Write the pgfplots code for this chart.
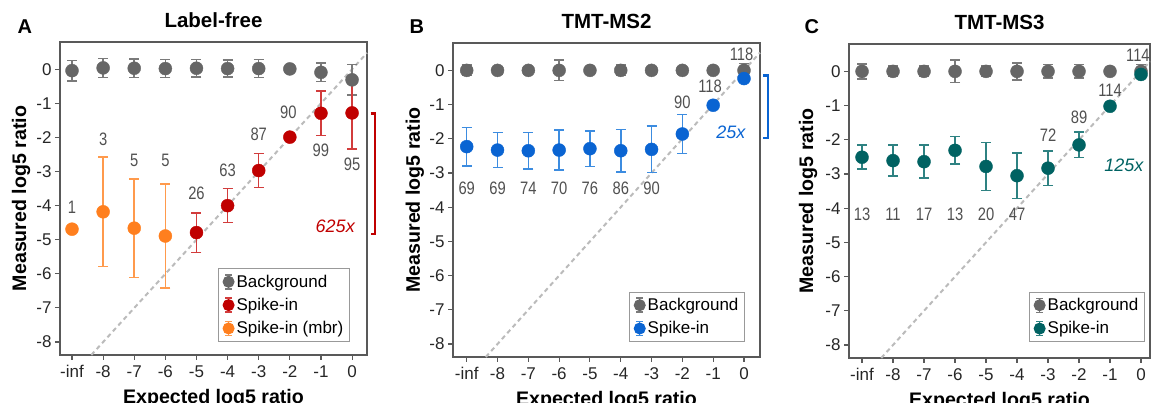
\documentclass[border=0pt]{standalone}
\usepackage{fontspec}
\setmainfont{Liberation Sans}
\newfontfamily\narrowfont[FakeStretch=0.82]{Liberation Sans}
\usepackage{pgfplots}
\usepackage{pgfplotstable}
\pgfplotsset{compat=1.18}

\definecolor{bgc}{HTML}{666666}
\definecolor{bgerr}{HTML}{7A7A7A}
\definecolor{redc}{HTML}{C00000}
\definecolor{rederr}{HTML}{D23C3C}
\definecolor{orc}{HTML}{FF7F1E}
\definecolor{orerr}{HTML}{FF9A4C}
\definecolor{bluec}{HTML}{0A64D2}
\definecolor{blueerr}{HTML}{3C8CE0}
\definecolor{tealc}{HTML}{006262}
\definecolor{tealerr}{HTML}{2E8282}
\definecolor{annc}{HTML}{505050}
\definecolor{diagc}{HTML}{BBBBBB}

% x = -9 stands for -inf
\pgfplotstableread{
x y e
-9 -0.04 0.30
-8 0.04 0.28
-7 0.03 0.27
-6 0.02 0.26
-5 0.03 0.25
-4 0.02 0.25
-3 0.02 0.26
-2 0.01 0.00
-1 -0.09 0.27
0 -0.31 0.45
}\bgA
\pgfplotstableread{
x y e
-5 -4.79 0.58
-4 -4.00 0.50
-3 -2.97 0.50
-2 -1.99 0.00
-1 -1.29 0.65
0 -1.28 1.06
}\spA
\pgfplotstableread{
x y e
-9 -4.69 0.00
-8 -4.18 1.60
-7 -4.66 1.44
-6 -4.89 1.52
}\mbrA
\pgfplotstableread{
x y e
-9 0 0.15
-8 0 0.12
-7 0 0.12
-6 0 0.30
-5 0 0.12
-4 0 0.15
-3 0 0.12
-2 0 0.12
-1 0 0.00
0 0 0.20
}\bgB
\pgfplotstableread{
x y e
-9 -2.23 0.56
-8 -2.33 0.51
-7 -2.35 0.53
-6 -2.33 0.58
-5 -2.29 0.52
-4 -2.35 0.62
-3 -2.31 0.68
-2 -1.86 0.57
-1 -1.02 0.00
0 -0.24 0.00
}\spB
\pgfplotstableread{
x y e
-9 0 0.22
-8 0 0.15
-7 0 0.15
-6 0 0.33
-5 0 0.15
-4 0 0.25
-3 0 0.20
-2 0 0.20
-1 0 0.00
0 0 0.20
}\bgC
\pgfplotstableread{
x y e
-9 -2.51 0.35
-8 -2.61 0.45
-7 -2.64 0.48
-6 -2.31 0.40
-5 -2.78 0.70
-4 -3.05 0.67
-3 -2.83 0.50
-2 -2.15 0.37
-1 -1.02 0.00
0 -0.09 0.00
}\spC

\newcommand\ebleg[2]{%
  \draw[#2, line width=1.4pt] (5pt,-7pt) -- (5pt,7pt);
  \draw[#2, line width=1.4pt] (1.5pt,-7pt) -- (8.5pt,-7pt);
  \draw[#2, line width=1.4pt] (1.5pt,7pt) -- (8.5pt,7pt);
  \fill[#1] (5pt,0pt) circle (5.5pt);}

\tikzset{
  diag/.style={diagc, dashed, line width=2pt, dash pattern=on 4.5pt off 3.5pt},
  ann/.style={font=\narrowfont\fontsize{18}{20}\selectfont, text=annc},
}
\newcommand\labfont{\bfseries\fontsize{19.6}{22}\selectfont}
\pgfplotsset{
  panel/.style={
    scale only axis, anchor=south west, clip=false,
    ymin=-8.38, ymax=0.8,
    xtick={-9,...,0}, xticklabels={-inf,-8,-7,-6,-5,-4,-3,-2,-1,0},
    ytick={-8,...,0}, yticklabels={-8,-7,-6,-5,-4,-3,-2,-1,0},
    xtick pos=bottom, ytick pos=left, tick align=outside,
    major tick length=5pt,
    axis line style={draw=black!65, line width=1.1pt},
    every tick/.style={draw=black!65, line width=1.1pt},
    tick label style={font=\fontsize{17}{19}\selectfont, text=black!85},
    xticklabel style={yshift=-2pt},
    xlabel={Expected log5 ratio}, ylabel={Measured log5 ratio},
    every axis x label/.style={at={(axis description cs:0.5,-0.155)}, anchor=base, font=\labfont},
    title style={at={(axis description cs:0.5,1)}, anchor=base, yshift=8.7pt,
      font=\bfseries\fontsize{20.5}{22}\selectfont},
    legend cell align=left,
    legend style={draw=black!40, line width=1pt, anchor=south east,
      font=\fontsize{17}{19}\selectfont, inner xsep=4pt, inner ysep=4pt, row sep=5.5pt},
  },
  ylab/.style={every axis y label/.style={at={(axis description cs:#1,0.5)},
      rotate=90, anchor=center, font=\labfont}},
  pts/.style n args={3}{only marks, mark=*, mark size=6.5pt,
    mark options={draw=#1, fill=#1},
    legend image code/.code={\ebleg{#1}{#2}},
    /pgfplots/error bars/y dir=both,
    /pgfplots/error bars/y explicit,
    /pgfplots/error bars/error mark=-,
    /pgfplots/error bars/error bar style={#2, line width=1.5pt},
    /pgfplots/error bars/error mark options={#2, rotate=90, line width=1.5pt, mark size=5pt}},
}

\begin{document}
\begin{tikzpicture}
\useasboundingbox (0,0) rectangle (1155pt,403pt);

\node[anchor=base west, font=\bfseries\fontsize{20}{22}\selectfont] at (14pt,369pt) {A};
\node[anchor=base west, font=\bfseries\fontsize{20}{22}\selectfont] at (406pt,369pt) {B};
\node[anchor=base west, font=\bfseries\fontsize{20}{22}\selectfont] at (801pt,369pt) {C};

% ---------- A ----------
\begin{axis}[panel, at={(60pt,48pt)}, width=307pt, height=313pt,
  xmin=-9.386, xmax=0.48, title={Label-free}, ylab=-0.127,
  legend style={at={(0.944,0.042)}}]
\addplot[diag, forget plot] coordinates {(-8.38,-8.38) (0.48,0.48)};
\addplot[pts={bgc}{bgerr}{}] table[x=x, y=y, y error=e] {\bgA};
\addlegendentry{Background}
\addplot[pts={redc}{rederr}{}] table[x=x, y=y, y error=e] {\spA};
\addlegendentry{Spike-in}
\addplot[pts={orc}{orerr}{}] table[x=x, y=y, y error=e] {\mbrA};
\addlegendentry{Spike-in (mbr)}
\node[ann] at (axis cs:-9,-4.04) {1};
\node[ann] at (axis cs:-8,-2.04) {3};
\node[ann] at (axis cs:-7,-2.67) {5};
\node[ann] at (axis cs:-6,-2.67) {5};
\node[ann] at (axis cs:-5,-3.65) {26};
\node[ann] at (axis cs:-4,-2.95) {63};
\node[ann] at (axis cs:-3,-1.91) {87};
\node[ann] at (axis cs:-2.05,-1.26) {90};
\node[ann] at (axis cs:-1,-2.38) {99};
\node[ann] at (axis cs:0,-2.79) {95};
\node[anchor=east, text=redc, font=\itshape\fontsize{18}{20}\selectfont] at (axis cs:0.2,-4.62) {625x};
\draw[redc, line width=2.2pt] (axis cs:0.60,-1.30) -- (axis cs:0.74,-1.30) -- (axis cs:0.74,-4.83) -- (axis cs:0.60,-4.83);
\end{axis}

% ---------- B ----------
\begin{axis}[panel, at={(453pt,46pt)}, width=307pt, height=314pt,
  xmin=-9.445, xmax=0.52, title={TMT-MS2}, ylab=-0.124,
  legend style={at={(0.951,0.048)}}]
\addplot[diag, forget plot] coordinates {(-8.38,-8.38) (0.52,0.52)};
\addplot[pts={bgc}{bgerr}{}] table[x=x, y=y, y error=e] {\bgB};
\addlegendentry{Background}
\addplot[pts={bluec}{blueerr}{}] table[x=x, y=y, y error=e] {\spB};
\addlegendentry{Spike-in}
\node[ann] at (axis cs:-9,-3.45) {69};
\node[ann] at (axis cs:-8,-3.45) {69};
\node[ann] at (axis cs:-7,-3.45) {74};
\node[ann] at (axis cs:-6,-3.45) {70};
\node[ann] at (axis cs:-5,-3.45) {76};
\node[ann] at (axis cs:-4,-3.45) {86};
\node[ann] at (axis cs:-3,-3.45) {90};
\node[ann] at (axis cs:-2,-0.92) {90};
\node[ann] at (axis cs:-1.1,-0.48) {118};
\node[ann] at (axis cs:-0.08,0.47) {118};
\node[anchor=east, text=bluec, font=\itshape\fontsize{18}{20}\selectfont] at (axis cs:0.16,-1.8) {25x};
\draw[bluec, line width=2.2pt] (axis cs:0.63,-0.15) -- (axis cs:0.79,-0.15) -- (axis cs:0.79,-1.97) -- (axis cs:0.63,-1.97);
\end{axis}

% ---------- C ----------
\begin{axis}[panel, at={(849pt,45pt)}, width=301pt, height=314pt,
  xmin=-9.42, xmax=0.29, title={TMT-MS3}, ylab=-0.136,
  legend style={at={(0.983,0.051)}}]
\addplot[diag, forget plot] coordinates {(-8.38,-8.38) (0.29,0.29)};
\addplot[pts={bgc}{bgerr}{}] table[x=x, y=y, y error=e] {\bgC};
\addlegendentry{Background}
\addplot[pts={tealc}{tealerr}{}] table[x=x, y=y, y error=e] {\spC};
\addlegendentry{Spike-in}
\node[ann] at (axis cs:-9,-4.17) {13};
\node[ann] at (axis cs:-8,-4.17) {11};
\node[ann] at (axis cs:-7,-4.17) {17};
\node[ann] at (axis cs:-6,-4.17) {13};
\node[ann] at (axis cs:-5,-4.17) {20};
\node[ann] at (axis cs:-4,-4.17) {47};
\node[ann] at (axis cs:-3,-1.87) {72};
\node[ann] at (axis cs:-2,-1.34) {89};
\node[ann] at (axis cs:-1,-0.56) {114};
\node[ann] at (axis cs:-0.1,0.47) {114};
\node[anchor=east, text=tealc, font=\itshape\fontsize{18}{20}\selectfont] at (axis cs:0.19,-2.75) {125x};
\end{axis}
\end{tikzpicture}
\end{document}
